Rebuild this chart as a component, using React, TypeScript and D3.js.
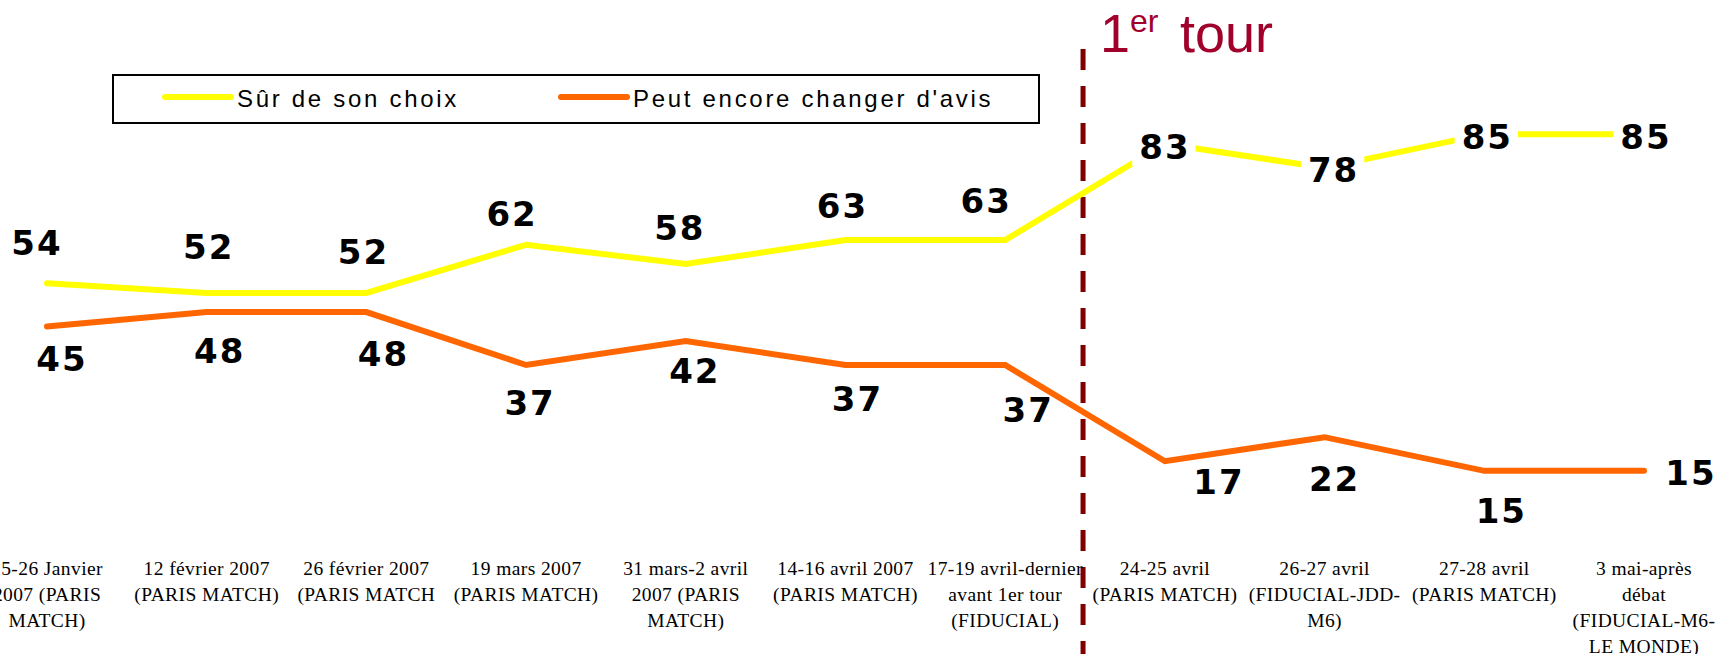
import { useEffect, useRef } from 'react';
import * as d3 from 'd3';

// one entry per poll, already split into the lines the original shows
const categories = [
  ['25-26 Janvier', '2007 (PARIS', 'MATCH)'],
  ['12 février 2007', '(PARIS MATCH)'],
  ['26 février 2007', '(PARIS MATCH'],
  ['19 mars 2007', '(PARIS MATCH)'],
  ['31 mars-2 avril', '2007 (PARIS', 'MATCH)'],
  ['14-16 avril 2007', '(PARIS MATCH)'],
  ['17-19 avril-dernier', 'avant 1er tour', '(FIDUCIAL)'],
  ['24-25 avril', '(PARIS MATCH)'],
  ['26-27 avril', '(FIDUCIAL-JDD-', 'M6)'],
  ['27-28 avril', '(PARIS MATCH)'],
  ['3 mai-après', 'débat', '(FIDUCIAL-M6-', 'LE MONDE)']
];

const surValues = [54, 52, 52, 62, 58, 63, 63, 83, 78, 85, 85];
const peutValues = [45, 48, 48, 37, 42, 37, 37, 17, 22, 15, 15];

const seriesNames = ['Sûr de son choix', 'Peut encore changer d\'avis'];

// label placement relative to its point (dx, dy), like hand-moved Excel labels
const surLabelShift = [[-11, -41], [1, -46], [-4, -41], [-15, -31], [-7, -36], [-4, -34], [-20, -39], [-1, 3], [8, 2], [2, 3], [1, 3]];
const peutLabelShift = [[14, 32], [12, 39], [16, 42], [3, 38], [8, 30], [11, 34], [22, 45], [53, 21], [9, 42], [16, 40], [46, 2]];

const YELLOW = '#FFFF00';
const ORANGE = '#FF6600';

export default function App() {
  const svgRef = useRef<SVGSVGElement>(null);

  useEffect(() => {
    if (!svgRef.current) return;
    const svg = d3.select(svgRef.current);
    svg.selectAll('*').remove();

    const width = 1720;
    const height = 654;
    svg.attr('width', width).attr('height', height);

    const idx = categories.map((_, i) => i);
    const x = d3.scalePoint<number>().domain(idx).range([47, 1644]);
    const y = d3.scaleLinear().domain([0, 100]).range([543, 62]);

    // 1er tour marker
    const tourX = ((x(6) as number) + (x(7) as number)) / 2 - 2;
    svg.append('line')
      .attr('x1', tourX).attr('x2', tourX)
      .attr('y1', 49).attr('y2', height)
      .attr('stroke', '#800000')
      .attr('stroke-width', 5)
      .attr('stroke-dasharray', '21 16');

    const tour = svg.append('text')
      .attr('x', 1100)
      .attr('y', 52)
      .style('font-family', 'Liberation Sans, Arial, sans-serif')
      .style('fill', '#A0002A');
    tour.append('tspan').style('font-size', '54px').text('1');
    tour.append('tspan').style('font-size', '32px').attr('dy', -20).text('er');
    tour.append('tspan').style('font-size', '54px').attr('x', 1180).attr('dy', 20).text('tour');

    // lines
    const line = d3.line<number>()
      .x((_, i) => x(i) as number)
      .y(d => y(d));

    [[surValues, YELLOW], [peutValues, ORANGE]].forEach(([vals, color]) => {
      svg.append('path')
        .datum(vals as number[])
        .attr('fill', 'none')
        .attr('stroke', color as string)
        .attr('stroke-width', 6)
        .attr('stroke-linecap', 'round')
        .attr('stroke-linejoin', 'miter')
        .attr('d', line);
    });

    // data labels; the yellow ones sit on opaque white boxes
    const drawLabels = (vals: number[], shifts: number[][], opaque: boolean) => {
      vals.forEach((v, i) => {
        const g = svg.append('g')
          .attr('transform', `translate(${(x(i) as number) + shifts[i][0]},${y(v) + shifts[i][1]})`);
        const bg = g.append('rect').attr('fill', opaque ? 'white' : 'none');
        const t = g.append('text')
          .attr('text-anchor', 'middle')
          .attr('dy', '0.36em')
          .attr('dx', 1)
          .style('font-family', 'DejaVu Sans, Verdana, sans-serif')
          .style('font-weight', 'bold')
          .style('font-size', '34px')
          .style('letter-spacing', '2px')
          .style('fill', '#000')
          .text(String(v));
        const bb = (t.node() as SVGTextElement).getBBox();
        bg.attr('x', bb.x - 7).attr('y', bb.y + 3)
          .attr('width', bb.width + 12).attr('height', bb.height - 4);
      });
    };
    drawLabels(surValues, surLabelShift, true);
    drawLabels(peutValues, peutLabelShift, false);

    // category labels
    categories.forEach((lines, i) => {
      const t = svg.append('text')
        .attr('text-anchor', 'middle')
        .style('font-family', 'Liberation Serif, Times New Roman, serif')
        .style('font-size', '19.5px')
        .style('letter-spacing', '0.4px')
        .style('fill', '#000');
      lines.forEach((ln, j) => {
        t.append('tspan')
          .attr('x', x(i) as number)
          .attr('y', 575 + j * 26)
          .text(ln);
      });
    });

    // legend
    const legend = svg.append('g');
    legend.append('rect')
      .attr('x', 113).attr('y', 75)
      .attr('width', 926).attr('height', 48)
      .attr('fill', 'white')
      .attr('stroke', '#000')
      .attr('stroke-width', 2);

    const items = [
      { name: seriesNames[0], color: YELLOW, x0: 165 },
      { name: seriesNames[1], color: ORANGE, x0: 561 }
    ];
    items.forEach(it => {
      legend.append('line')
        .attr('x1', it.x0).attr('x2', it.x0 + 66)
        .attr('y1', 97).attr('y2', 97)
        .attr('stroke', it.color)
        .attr('stroke-width', 6)
        .attr('stroke-linecap', 'round');
      legend.append('text')
        .attr('x', it.x0 + 72)
        .attr('y', 107)
        .style('font-family', 'Liberation Sans, Arial, sans-serif')
        .style('font-size', '24px')
        .style('letter-spacing', '2.7px')
        .style('fill', '#000')
        .text(it.name);
    });
  }, []);

  return (
    <div style={{ position: 'fixed', left: 0, top: 0, width: 1720, height: 654, background: 'white' }}>
      <svg ref={svgRef} style={{ display: 'block' }}></svg>
    </div>
  );
}
